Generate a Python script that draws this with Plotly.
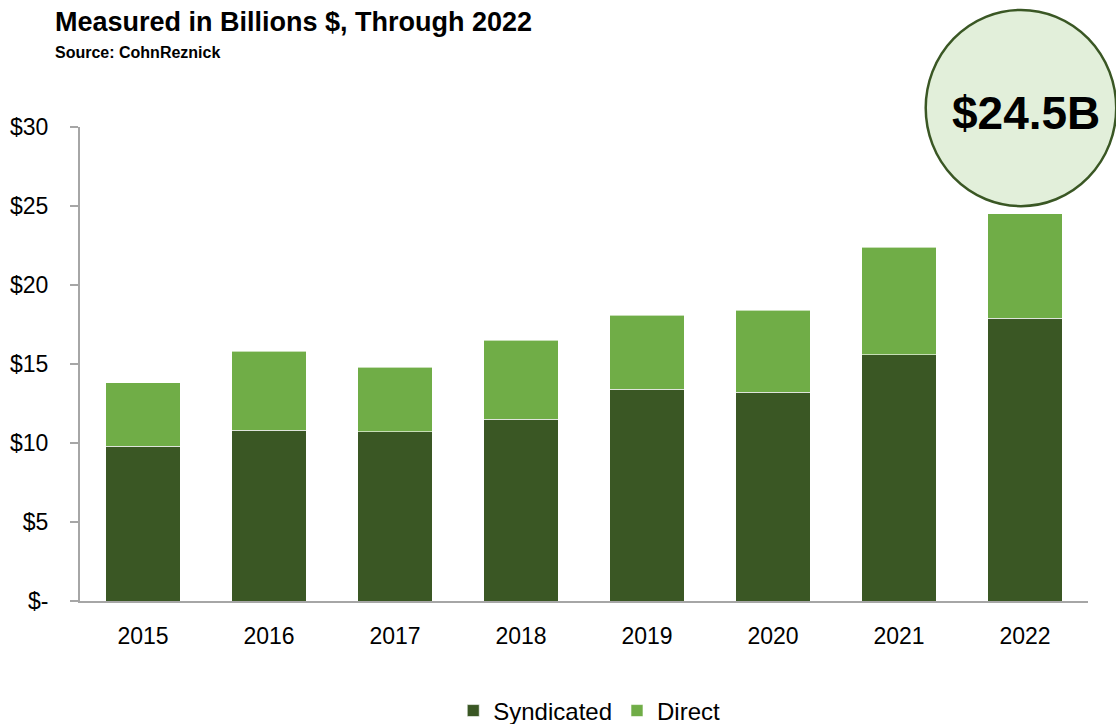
import plotly.graph_objects as go

# Annual equity volume by channel, billions of dollars
years = ["2015", "2016", "2017", "2018", "2019", "2020", "2021", "2022"]
syndicated = [9.8, 10.8, 10.7, 11.5, 13.4, 13.2, 15.6, 17.9]
direct = [4.0, 5.0, 4.1, 5.0, 4.7, 5.2, 6.8, 6.6]

y_ticks = [0, 5, 10, 15, 20, 25, 30]
y_tick_labels = ["$-", "$5", "$10", "$15", "$20", "$25", "$30"]

DARK = "#3a5724"
LIGHT = "#70ad47"
AXIS = "#a6a6a6"
FONT = "Liberation Sans, Arial, sans-serif"

fig = go.Figure()
fig.add_trace(go.Bar(
    x=years, y=syndicated, name="Syndicated",
    marker=dict(color=DARK, line=dict(color="rgba(255,255,255,0.6)", width=1)),
))
fig.add_trace(go.Bar(
    x=years, y=direct, name="Direct",
    marker=dict(color=LIGHT, line=dict(color="rgba(255,255,255,0.6)", width=1)),
))

total_last = syndicated[-1] + direct[-1]

fig.update_layout(
    width=1116, height=724,
    margin=dict(l=80, r=28, t=127, b=123, autoexpand=False),
    barmode="stack", bargap=0.41,
    plot_bgcolor="white", paper_bgcolor="white",
    font=dict(family=FONT, color="#000000", size=23),
    showlegend=True,
    legend=dict(
        orientation="h", xref="container", yref="container",
        x=0.528, xanchor="center", y=0.018, yanchor="middle",
        font=dict(size=24), itemwidth=30, traceorder="normal",
    ),
    xaxis=dict(
        showline=True, linecolor=AXIS, linewidth=2, ticks="",
        tickfont=dict(size=23), ticklabelstandoff=13,
    ),
    yaxis=dict(
        range=[0, 30], tickvals=y_ticks, ticktext=y_tick_labels,
        showline=True, linecolor=AXIS, linewidth=2,
        ticks="outside", ticklen=8, tickcolor=AXIS, tickwidth=2,
        showgrid=False, zeroline=False, tickfont=dict(size=23),
        ticklabelstandoff=17,
    ),
)

# Headings above the plot
fig.add_annotation(
    text="<b>Measured in Billions $, Through 2022</b>", xref="paper", yref="paper",
    x=-0.0268, y=1.2215, xanchor="left", yanchor="middle", showarrow=False,
    font=dict(size=27, family=FONT),
)
fig.add_annotation(
    text="<b>Source: CohnReznick</b>", xref="paper", yref="paper",
    x=-0.0268, y=1.158, xanchor="left", yanchor="middle", showarrow=False,
    font=dict(size=16, family=FONT),
)

# Callout circle with the latest total
fig.add_shape(
    type="circle", xref="paper", yref="paper",
    x0=0.839, x1=1.028, y0=0.833, y1=1.247,
    fillcolor="#e2efda", line=dict(color=DARK, width=2.5), layer="above",
)
fig.add_annotation(
    text=f"<b>${total_last:.1f}B</b>", xref="paper", yref="paper",
    x=0.9385, y=1.03, xanchor="center", yanchor="middle", showarrow=False,
    font=dict(size=46, family=FONT, color="#000000"),
)

fig.write_html("out.html")
